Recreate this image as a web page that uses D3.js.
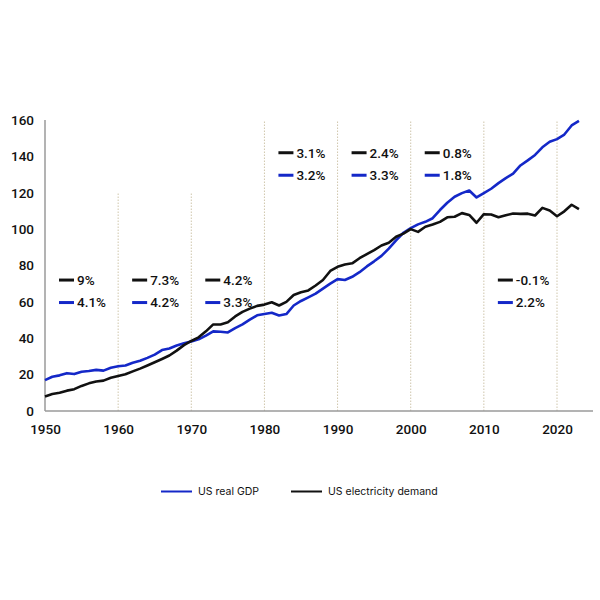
<!DOCTYPE html>
<html>
<head>
<meta charset="utf-8">
<script src="https://cdn.jsdelivr.net/npm/d3@7/dist/d3.min.js"></script>
<style>
  html, body { margin: 0; padding: 0; background: #fff; }
  svg { display: block; }
</style>
</head>
<body>
<svg id="chart" width="600" height="600"></svg>
<script>
const years = d3.range(1950, 2024);
const gdp = [17,18.8,19.6,20.8,20.3,21.6,22,22.6,22.2,23.8,
  24.6,25,26.5,27.6,29.2,31,33.5,34.4,36,37.2,
  38.2,39.4,41.4,43.8,43.6,43.2,45.6,47.6,50.2,52.6,
  53.3,54,52.5,53.3,58,60.5,62.5,64.5,67.3,70,
  72.5,72,73.8,76.3,79.5,82.3,85.3,89.3,93.8,98,
  100.5,102.6,104,106,110.5,114.5,117.8,119.8,121.2,117.4,
  119.8,122.2,125.3,128,130.5,135,137.8,140.8,145,148,
  149.5,152,157,159.5];
const electricity = [8,9.3,10,11.2,12,13.8,15.2,16.2,16.7,18.3,
  19.3,20.2,21.8,23.3,25,26.8,28.6,30.5,33.2,36.2,
  38.5,40.5,43.8,47.6,47.6,48.8,52,54.5,56.3,57.8,
  58.5,59.8,58,60,63.8,65.3,66.3,69,72,77,
  79.3,80.5,81.2,84,86.3,88.5,91,92.5,95.8,97.5,
  100,98.5,101.3,102.5,104,106.5,106.8,108.8,107.8,103.5,
  108.2,108,106.5,107.6,108.6,108.4,108.5,107.5,111.7,110.2,
  107.1,109.8,113.4,111];
const yTicks = [0,20,40,60,80,100,120,140,160];
const xTicks = [1950,1960,1970,1980,1990,2000,2010,2020];
const gridYears = [1960,1970,1980,1990,2000,2010,2020];
const gridTops = [120,120,160,160,160,160,160];
const decadeStarts = [1950,1960,1970,1980,1990,2000,2010];
const elecGrowth = ["9%","7.3%","4.2%","3.1%","2.4%","0.8%","-0.1%"];
const gdpGrowth = ["4.1%","4.2%","3.3%","3.2%","3.3%","1.8%","2.2%"];
const labelLevel = [72,72,72,142,142,142,72];
const seriesNames = ["US real GDP","US electricity demand"];

const BLUE = "#1428c8", BLACK = "#111111";
const svg = d3.select("#chart");
const x = d3.scaleLinear().domain([1950, 2020]).range([45, 557]);
const y = d3.scaleLinear().domain([0, 160]).range([411, 120]);
const tickFont = "Roboto, 'DejaVu Sans', sans-serif";

// gridlines
svg.append("g").selectAll("line").data(gridYears).join("line")
  .attr("x1", d => x(d)).attr("x2", d => x(d))
  .attr("y1", y(0)).attr("y2", (d,i) => y(gridTops[i]))
  .attr("stroke", "#cfc6ac").attr("stroke-width", 1).attr("stroke-dasharray", "1.5,1.5");

// axes
const xAxis = d3.axisBottom(x).tickValues(xTicks).tickFormat(d3.format("d")).tickSize(0).tickPadding(13);
const gx = svg.append("g").attr("transform", `translate(0,${y(0)})`).call(xAxis);
gx.select(".domain").remove();
svg.append("line").attr("x1", 45).attr("x2", 593).attr("y1", y(0)).attr("y2", y(0))
  .attr("stroke", "#9a9a9a").attr("stroke-width", 1.5);
const yAxis = d3.axisLeft(y).tickValues(yTicks).tickSize(0).tickPadding(11);
const gy = svg.append("g").attr("transform", `translate(45,0)`).call(yAxis);
gy.select(".domain").remove();
svg.append("line").attr("x1", 45).attr("x2", 45).attr("y1", y(0)).attr("y2", y(160))
  .attr("stroke", "#9a9a9a").attr("stroke-width", 1.5);
svg.selectAll(".tick text").attr("font-family", tickFont).attr("font-size", 13.5)
  .attr("fill", "#111").attr("font-weight", 500);

// lines
const line = d3.line().x((d,i) => x(years[i])).y(d => y(d));
svg.append("path").datum(gdp).attr("d", line).attr("fill", "none")
  .attr("stroke", BLUE).attr("stroke-width", 2.6).attr("stroke-linejoin", "round");
svg.append("path").datum(electricity).attr("d", line).attr("fill", "none")
  .attr("stroke", BLACK).attr("stroke-width", 2.6).attr("stroke-linejoin", "round");

// growth labels
const ann = svg.append("g").selectAll("g").data(decadeStarts).join("g")
  .attr("transform", (d,i) => `translate(${x(d)+14},${y(labelLevel[i])})`);
[[elecGrowth, BLACK, 0], [gdpGrowth, BLUE, 22.5]].forEach(([arr, col, dy]) => {
  ann.append("line").attr("x1", 0).attr("x2", 15).attr("y1", dy).attr("y2", dy)
    .attr("stroke", col).attr("stroke-width", 3);
  ann.append("text").attr("x", 18).attr("y", dy).attr("dy", "0.36em")
    .attr("font-family", tickFont).attr("font-size", 13.5).attr("font-weight", 500)
    .attr("fill", "#111").text((d,i) => arr[i]);
});

// legend
const legend = svg.append("g");
const legX = [161, 291], legCol = [BLUE, BLACK];
seriesNames.forEach((n, i) => {
  legend.append("line").attr("x1", legX[i]).attr("x2", legX[i] + 31)
    .attr("y1", 491.5).attr("y2", 491.5).attr("stroke", legCol[i]).attr("stroke-width", 2);
  legend.append("text").attr("x", legX[i] + 37).attr("y", 491.5).attr("dy", "0.35em")
    .attr("font-family", "Inter, sans-serif").attr("font-size", 10.5).attr("fill", "#111").text(n);
});
</script>
</body>
</html>
